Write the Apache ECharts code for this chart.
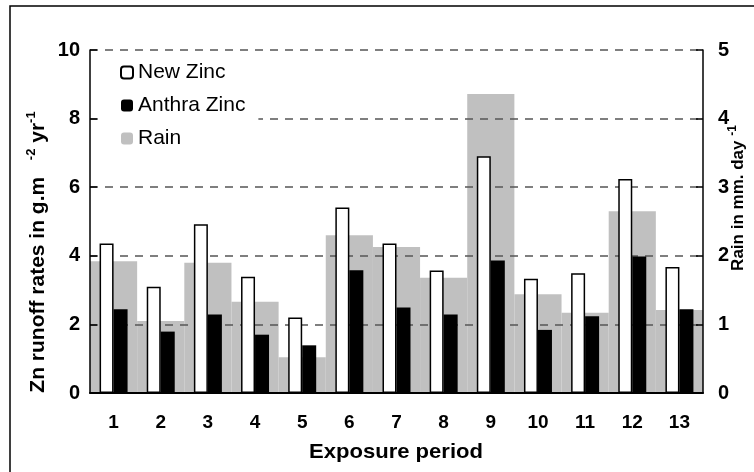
<!DOCTYPE html>
<html>
<head>
<meta charset="utf-8">
<script src="https://cdn.jsdelivr.net/npm/echarts@6/dist/echarts.min.js"></script>
<style>html,body{margin:0;padding:0;background:#fff;}#c{width:754px;height:472px;}</style>
</head>
<body>
<div id="c"></div>
<script>
const categories = ['1','2','3','4','5','6','7','8','9','10','11','12','13'];
const newZinc = [4.36, 3.10, 4.92, 3.39, 2.20, 5.41, 4.36, 3.57, 6.90, 3.33, 3.49, 6.24, 3.67];
const anthraZinc = [2.44, 1.79, 2.29, 1.70, 1.39, 3.58, 2.49, 2.29, 3.86, 1.84, 2.24, 3.98, 2.44];
const rain = [1.92, 1.05, 1.90, 1.33, 0.52, 2.30, 2.13, 1.68, 4.36, 1.44, 1.17, 2.65, 1.21];
const leftTicks = [0, 2, 4, 6, 8, 10];
const rightTicks = [0, 1, 2, 3, 4, 5];

const FONT = '"Liberation Sans", Arial, sans-serif';
const chart = echarts.init(document.getElementById('c'), null, {renderer: 'canvas'});
chart.setOption({
  backgroundColor: '#fff',
  animation: false,
  grid: {left: 90, right: 51, top: 50, bottom: 79, containLabel: false},
  legend: {
    orient: 'vertical', left: 100, top: 54,
    padding: [8, 13, 8, 20],
    backgroundColor: '#fff',
    itemWidth: 12, itemHeight: 12, itemGap: 12,
    z: 10,
    textStyle: {fontFamily: FONT, fontSize: 21, color: '#000'},
    data: ['New Zinc', 'Anthra Zinc', 'Rain']
  },
  xAxis: [{
    type: 'category', data: categories,
    axisLine: {lineStyle: {color: '#000', width: 2}},
    axisTick: {length: 5, lineStyle: {color: '#000', width: 1.5}},
    axisLabel: {margin: 20, fontFamily: FONT, fontSize: 19, fontWeight: 'bold', color: '#000'},
    z: 4
  }, {
    type: 'category', data: categories, show: false
  }],
  yAxis: [{
    type: 'value', min: 0, max: 10, interval: 2,
    axisLine: {show: true, lineStyle: {color: '#000', width: 1.5}},
    axisTick: {show: true, inside: true, length: 7, lineStyle: {color: '#000', width: 1.5}},
    axisLabel: {margin: 10, fontFamily: FONT, fontSize: 20, fontWeight: 'bold', color: '#000',
      formatter: v => leftTicks.includes(v) ? String(v) : ''},
    splitLine: {show: true, lineStyle: {color: '#555', width: 1.5, type: [8, 7]}},
    z: 2
  }, {
    type: 'value', min: 0, max: 5, interval: 1, position: 'right',
    axisLine: {show: true, lineStyle: {color: '#000', width: 1.5}},
    axisTick: {show: true, inside: true, length: 7, lineStyle: {color: '#000', width: 1.5}},
    axisLabel: {margin: 15, fontFamily: FONT, fontSize: 20, fontWeight: 'bold', color: '#000',
      formatter: v => rightTicks.includes(v) ? String(v) : ''},
    splitLine: {show: false},
    z: 2
  }],
  series: [{
    name: 'Rain', type: 'bar', xAxisIndex: 1, yAxisIndex: 1,
    data: rain, barWidth: '100%', z: 1,
    itemStyle: {color: '#c0c0c0'}
  }, {
    name: 'New Zinc', type: 'bar', xAxisIndex: 0, yAxisIndex: 0,
    data: newZinc, barWidth: 14, barGap: '0%', z: 3,
    itemStyle: {color: '#fff', borderColor: '#000', borderWidth: 1.5}
  }, {
    name: 'Anthra Zinc', type: 'bar', xAxisIndex: 0, yAxisIndex: 0,
    data: anthraZinc, barWidth: 14, barGap: '0%', z: 3,
    itemStyle: {color: '#000'}
  }],
  graphic: [{
    type: 'rect', shape: {x: 10, y: 6, width: 800, height: 500}, z: 20, silent: true,
    style: {fill: 'none', stroke: '#000', lineWidth: 1.5}
  }, {
    type: 'text', x: 38, y: 252, rotation: Math.PI / 2, z: 20,
    style: {
      text: '{b|Zn runoff rates in g.m}{g|     }{s|-2}{b| yr}{s|-1}',
      align: 'center', verticalAlign: 'middle',
      rich: {
        b: {fontFamily: FONT, fontSize: 21, fontWeight: 'bold', fill: '#000', lineHeight: 26},
        g: {fontFamily: FONT, fontSize: 12, lineHeight: 26},
        s: {fontFamily: FONT, fontSize: 13, fontWeight: 'bold', fill: '#000', lineHeight: 13, verticalAlign: 'top'}
      }
    }
  }, {
    type: 'text', x: 738, y: 198, rotation: Math.PI / 2, z: 20,
    style: {
      text: '{b|Rain in mm. day }{s|-1}',
      align: 'center', verticalAlign: 'middle',
      rich: {
        b: {fontFamily: FONT, fontSize: 17, fontWeight: 'bold', fill: '#000', lineHeight: 22},
        s: {fontFamily: FONT, fontSize: 12, fontWeight: 'bold', fill: '#000', lineHeight: 12, verticalAlign: 'top'}
      }
    }
  }, {
    type: 'text', x: 396, y: 452, z: 20, scaleX: 1.05,
    style: {text: 'Exposure period', align: 'center', verticalAlign: 'middle',
      font: 'bold 21px ' + FONT, fill: '#000'}
  }]
});
</script>
</body>
</html>
